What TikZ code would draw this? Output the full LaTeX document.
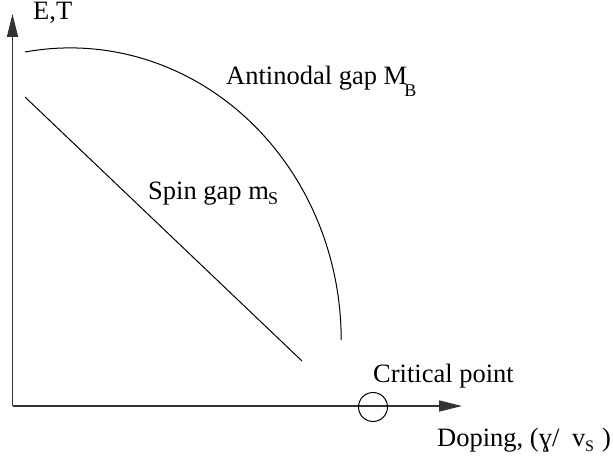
\documentclass[tikz,border=0pt]{standalone}
\usepackage{fontspec}
\setmainfont{Liberation Serif}
\usetikzlibrary{arrows.meta}
\begin{document}
\begin{tikzpicture}[x=1pt,y=-1pt,
  axis/.style={line width=1.3pt,draw=black!80,-{Triangle[length=23pt,width=11pt]}},
  curve/.style={line width=1pt},
  lbl/.style={anchor=base west,inner sep=0pt,font=\fontsize{26.5}{30}\selectfont},
  sub/.style={anchor=base west,inner sep=0pt,font=\fontsize{18}{20}\selectfont},
  smallsub/.style={anchor=base west,inner sep=0pt,font=\fontsize{16}{18}\selectfont}]
\useasboundingbox (0,0) rectangle (613,462);
\coordinate (o) at (12.5,406);
\coordinate (ytip) at (12.5,14);
\coordinate (xtip) at (462,406);
\draw[axis] (o) -- (ytip);
\draw[axis] (o) -- (xtip);
\node[circle,draw,line width=1pt,minimum size=29pt,inner sep=0pt] (cp) at (373,407) {};
\coordinate (arcstart) at (25,52);
\draw[curve] (arcstart) arc[start angle=-99.6,end angle=0,x radius=271,y radius=292];
\coordinate (s1) at (25,97);
\coordinate (s2) at (302,361);
\draw[curve] (s1) -- (s2);
\node[lbl] (et) at (33,20) {E,T};
\node[lbl] (anti) at (226,85) {Antinodal gap M\hspace{-3pt}\raisebox{-12pt}{\fontsize{18}{20}\selectfont B}};
\node[lbl] (spin) at (148,200) {Spin gap m};
\node[sub] (spins) at (268,205) {S};
\node[lbl] (crit) at (373,382) {Critical point};
\node[lbl] (dop) at (437,446) {Doping, (ɣ/};
\node[lbl] (dopv) at (572,446) {v};
\node[smallsub] (dops) at (585,451) {S};
\node[lbl] (dopc) at (602,446) {)};
\end{tikzpicture}
\end{document}
